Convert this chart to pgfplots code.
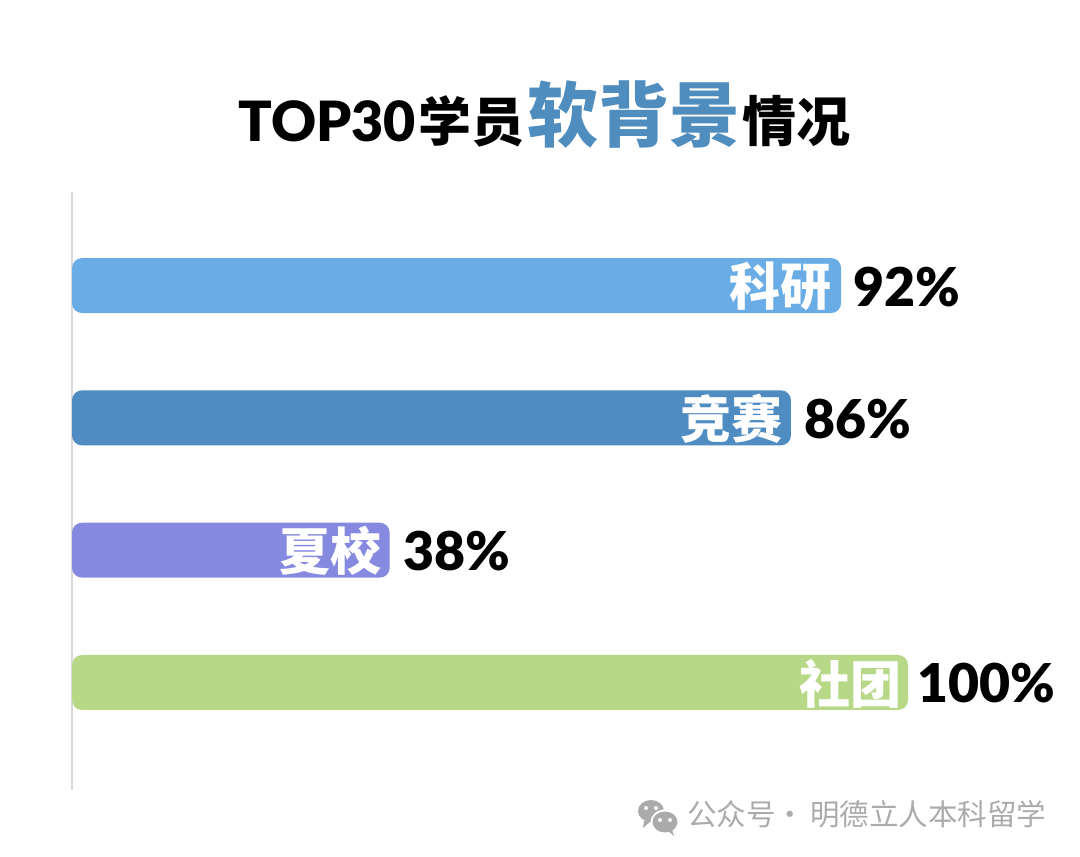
\documentclass[border=0pt]{standalone}
\usepackage{fontspec}
\usepackage{pgfplots}
\pgfplotsset{compat=1.18}
\setmainfont{Lato}
\newfontfamily\heavy{Lato Black}
\newfontfamily\cjk{Noto Sans CJK SC}
\definecolor{barA}{HTML}{6AADE6}
\definecolor{barB}{HTML}{4F8CC2}
\definecolor{barC}{HTML}{8589E0}
\definecolor{barD}{HTML}{B7D886}
\definecolor{titleblue}{HTML}{4F8DBF}
\definecolor{axisgray}{HTML}{D9D9D9}
\definecolor{footgray}{HTML}{ABABAB}
\pgfplotsset{
  softbar/.style={xbar, draw=none, fill=#1, rounded corners=10pt, bar shift=0pt, bar width=55pt, forget plot},
  pct/.style 2 args={nodes near coords={#1},
    nodes near coords style={anchor=west, font=\fontsize{53.5}{53.5}\selectfont\heavy, text=black, xshift=#2, yshift=-1pt, inner sep=0pt}},
  inlab/.style 2 args={draw=none, mark=none, forget plot, nodes near coords={#1},
    nodes near coords style={anchor=east, font=\fontsize{51}{51}\selectfont\cjk\bfseries, text=white, inner sep=0pt, xshift=#2, yshift=-1pt}},
}
\begin{document}
\begin{tikzpicture}[x=1pt,y=1pt]
\useasboundingbox (0,0) rectangle (1080,857);
\begin{axis}[
  at={(72pt,67pt)}, anchor=south west,
  scale only axis, width=1008pt, height=598pt,
  xmin=0, xmax=120.57, ymin=-0.707, ymax=3.8125, y dir=reverse,
  axis x line=none, axis y line*=left, y axis line style={draw=axisgray, line width=1.5pt, -},
  ytick=\empty, xtick=\empty, clip=false,
]
\addplot[softbar=barA, pct={92\%}{12pt}] coordinates {(92,0)};
\addplot[softbar=barB, pct={86\%}{13pt}] coordinates {(86,1)};
\addplot[softbar=barC, pct={38\%}{14pt}] coordinates {(38,2)};
\addplot[softbar=barD, pct={100\%}{9pt}] coordinates {(100,3)};
\addplot[inlab={科研}{-9pt}] coordinates {(92,0)};
\addplot[inlab={竞赛}{-8pt}] coordinates {(86,1)};
\addplot[inlab={夏校}{-8pt}] coordinates {(38,2)};
\addplot[inlab={社团}{-6pt}] coordinates {(100,3)};
\end{axis}
% title
\node[anchor=base west, inner sep=0pt] at (238,715) {\fontsize{55.5}{55.5}\selectfont\heavy TOP30};
\node[anchor=base west, inner sep=0pt] at (418,715) {\fontsize{53}{53}\selectfont\cjk\bfseries 学员};
\node[anchor=base west, inner sep=0pt, text=titleblue] at (527,715) {\fontsize{71}{71}\selectfont\cjk\bfseries 软背景};
\node[anchor=base west, inner sep=0pt] at (742,715) {\fontsize{54}{54}\selectfont\cjk\bfseries 情况};
% watermark
\fill[footgray] (651,46) ellipse (13 and 11);
\fill[footgray] (644,36) -- (643,29) -- (651,36) -- cycle;
\fill[white] (665,35) ellipse (14.5 and 12.5);
\fill[footgray] (665,35) ellipse (12.5 and 10.5);
\fill[footgray] (668,26) -- (674,21) -- (672,28) -- cycle;
\foreach \p in {(646,49),(656,49),(660,37),(670,37)} \fill[white] \p circle (2);
\node[anchor=base west, inner sep=0pt, text=footgray] at (687,31) {\fontsize{29.5}{30}\selectfont\cjk 公众号};
\node[anchor=base, inner sep=0pt, text=footgray] at (790,31) {\fontsize{29.5}{30}\selectfont\cjk ·};
\node[anchor=base west, inner sep=0pt, text=footgray] at (810,31) {\fontsize{29.5}{30}\selectfont\cjk 明德立人本科留学};
\end{tikzpicture}
\end{document}
